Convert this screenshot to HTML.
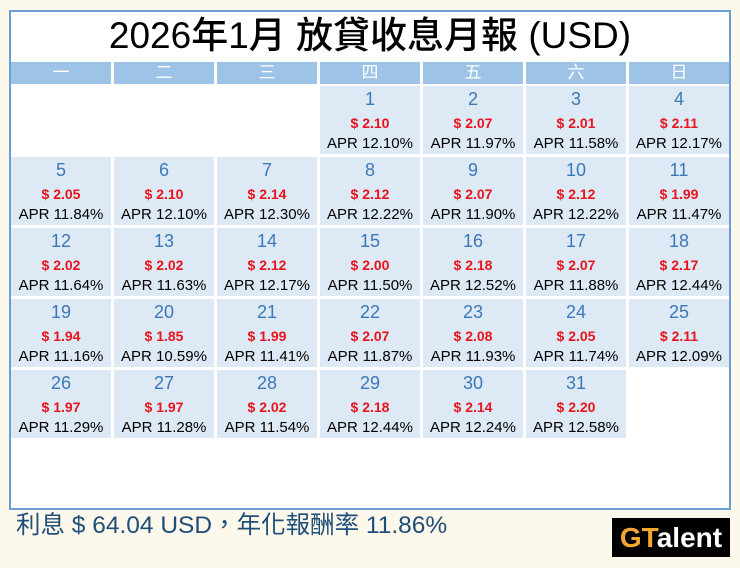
<!DOCTYPE html>
<html><head><meta charset="utf-8">
<style>
body{margin:0;width:740px;height:568px;background:#fdf8ec;position:relative;overflow:hidden;font-family:"Liberation Sans","Noto Sans CJK TC",sans-serif}
#box{position:absolute;left:9px;top:10px;width:718px;height:496px;border:2px solid #6a9fd3;background:#fff}
#title{position:absolute;left:0;top:10px;width:740px;text-align:center;font-size:37px;line-height:52px;color:#000;font-weight:500}
.hd{position:absolute;top:62px;height:22px;background:#9dc3e6;color:#fff;text-align:center;font-size:17px;line-height:22px}
.cell{position:absolute;height:68px;background:#dde9f5;text-align:center}
.num{position:absolute;left:0;right:0;top:2px;font-size:18px;line-height:22px;color:#3b78b8}
.amt{position:absolute;left:0;right:0;top:28px;font-size:14px;line-height:18px;color:#e8141c;font-weight:bold}
.apr{position:absolute;left:0;right:0;top:49px;font-size:15px;line-height:18px;color:#000}
#foot{position:absolute;left:16px;top:511px;font-size:24.5px;line-height:30px;color:#1f4e79}
#logo{position:absolute;left:612px;top:518px;width:118px;height:39px;background:#000;color:#fff;font-size:28px;font-weight:bold;line-height:39px;text-align:center}
#logo span{color:#f0a830}
</style></head><body>
<div id="box"></div>
<div id="title">2026年1月 放貸收息月報 (USD)</div>
<div id="cal"></div>
<div id="foot">利息 $ 64.04 USD，年化報酬率 11.86%</div>
<div id="logo"><span>GT</span>alent</div>
<script>
const weekdays=["一","二","三","四","五","六","日"];
const days=[1,2,3,4,5,6,7,8,9,10,11,12,13,14,15,16,17,18,19,20,21,22,23,24,25,26,27,28,29,30,31];
const amounts=[2.10,2.07,2.01,2.11,2.05,2.10,2.14,2.12,2.07,2.12,1.99,2.02,2.02,2.12,2.00,2.18,2.07,2.17,1.94,1.85,1.99,2.07,2.08,2.05,2.11,1.97,1.97,2.02,2.18,2.14,2.20];
const aprs=[12.10,11.97,11.58,12.17,11.84,12.10,12.30,12.22,11.90,12.22,11.47,11.64,11.63,12.17,11.50,12.52,11.88,12.44,11.16,10.59,11.41,11.87,11.93,11.74,12.09,11.29,11.28,11.54,12.44,12.24,12.58];
const firstCol=3;
const cal=document.getElementById('cal');
const colX=c=>11+c*103, rowY=r=>86+r*71;
weekdays.forEach((w,i)=>{
  const h=document.createElement('div');
  h.className='hd';h.style.left=colX(i)+'px';h.style.width='100px';h.textContent=w;
  
  
  cal.appendChild(h);
});
days.forEach((d,i)=>{
  const p=i+firstCol, c=p%7, r=Math.floor(p/7);
  const el=document.createElement('div');
  el.className='cell';el.style.left=colX(c)+'px';el.style.top=rowY(r)+'px';el.style.width='100px';
  el.innerHTML='<div class="num">'+d+'</div><div class="amt">$ '+amounts[i].toFixed(2)+'</div><div class="apr">APR '+aprs[i].toFixed(2)+'%</div>';
  
  
  cal.appendChild(el);
});
</script>
</body></html>
